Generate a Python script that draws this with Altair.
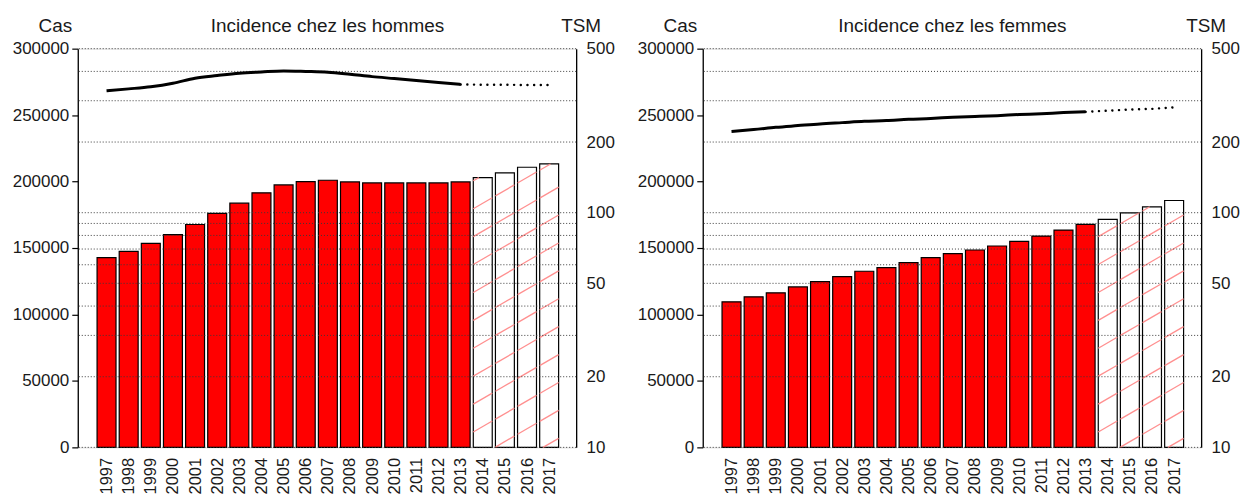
import altair as alt
import pandas as pd

# ---------------- data ----------------
years = list(range(1997, 2018))
first_projected_year = 2014

cas_hommes = [142700, 147500, 153500, 160000, 167700, 176000, 183750, 191500,
              197500, 200000, 201000, 199750, 199000, 199000, 199000, 199000,
              199750, 203000, 206500, 210750, 213250]
tsm_hommes = [331, 337, 344, 356, 374, 384, 393, 398, 402, 400, 397, 389,
              380, 373, 366, 359, 352, 351, 351, 350, 350]

cas_femmes = [109500, 113250, 116250, 120750, 124750, 128500, 132500, 135250,
              139000, 142750, 145750, 148500, 151500, 155000, 159000, 163500,
              167750, 171500, 176500, 181000, 185750]
tsm_femmes = [222, 226, 231, 235, 239, 242, 245, 247, 250, 252, 255, 257,
              259, 262, 264, 267, 269, 272, 275, 277, 281]

panel_titles = ["Incidence chez les hommes", "Incidence chez les femmes"]
cas_ticks = [0, 50000, 100000, 150000, 200000, 250000, 300000]
tsm_ticks = [10, 20, 50, 100, 200, 500]
tsm_grid = [10, 20, 30, 40, 50, 60, 70, 80, 90, 100, 200, 300, 400, 500]

# ---------------- style constants ----------------
FONT = "Liberation Sans"
TXT = "#1a1a1a"
W, H = 500, 400
X_DOMAIN = [1995.70, 2018.22]
CAS_MAX = 300000
BAR_HALF = 0.428
HATCH_SLOPE_PX = 0.58      # rise per px of run (screen)
HATCH_SPACING_PX = 28      # vertical spacing between hatch lines


def hatch_segments(df):
    px_per_year = W / (X_DOMAIN[1] - X_DOMAIN[0])
    cas_per_px = CAS_MAX / H
    s = HATCH_SLOPE_PX * px_per_year * cas_per_px
    step = HATCH_SPACING_PX * cas_per_px
    x_ref = 2015 - BAR_HALF
    c_ref = 63225
    rows = []
    for _, r in df[df["proj"]].iterrows():
        x0, x1, top = r["x0"], r["x1"], r["cas"]
        for n in range(-30, 40):
            a = c_ref + n * step
            xz = x_ref - a / s
            xt = x_ref + (top - a) / s
            xs = max(x0, xz)
            xe = min(x1, xt)
            if xe > xs + 1e-6:
                rows.append({"hx": xs, "hy": a + s * (xs - x_ref),
                             "hx2": xe, "hy2": a + s * (xe - x_ref)})
    return pd.DataFrame(rows)


def panel(cas, tsm, title):
    df = pd.DataFrame({"year": years, "cas": cas, "tsm": tsm})
    df["proj"] = df["year"] >= first_projected_year
    df["x0"] = df["year"] - BAR_HALF
    df["x1"] = df["year"] + BAR_HALF
    hdf = hatch_segments(df)
    gdf = pd.DataFrame({"g": tsm_grid})

    xscale = alt.Scale(domain=X_DOMAIN, nice=False, zero=False)
    xaxis = alt.Axis(values=years, format="d", labelAngle=270, domain=False,
                     ticks=False, grid=False, labelFontSize=16.5, labelPadding=10,
                     labelFont=FONT, labelColor=TXT, title=None,
                     labelOverlap=False, labelFlush=False)
    top_axis = alt.Axis(orient="top", labels=False, ticks=False, domain=False,
                        grid=False, title=title, titleX=W / 2, titleY=-17,
                        titleAlign="center", titleBaseline="alphabetic",
                        titleAngle=0, titleFontSize=19, titleFontWeight="normal",
                        titleFont=FONT, titleColor=TXT)
    cas_scale = alt.Scale(domain=[0, CAS_MAX], nice=False, zero=True)
    tsm_scale = alt.Scale(type="log", domain=[10, 500], nice=False)

    bars = alt.Chart(df).mark_bar(stroke="#000000", strokeWidth=1.2).encode(
        x=alt.X("x0:Q", scale=xscale, axis=xaxis),
        x2="x1:Q",
        y=alt.Y("cas:Q", scale=cas_scale, axis=alt.Axis(
            orient="left", values=cas_ticks, format="d", tickSize=6,
            tickColor="#000000", domainColor="#000000", domainWidth=1.3,
            tickWidth=1.2, labelPadding=3, grid=False, labelFontSize=17,
            labelFont=FONT, labelColor=TXT,
            title="Cas", titleAngle=0, titleX=-23, titleY=-17,
            titleAlign="center", titleBaseline="alphabetic", titleFontSize=19,
            titleFontWeight="normal", titleFont=FONT, titleColor=TXT)),
        y2=alt.datum(0),
        fill=alt.condition("datum.proj", alt.value("#ffffff"), alt.value("#ff0000")),
    )

    hatch = alt.Chart(hdf).mark_rule(color="#ff8f8f", strokeWidth=1.3).encode(
        x=alt.X("hx:Q", scale=xscale, axis=top_axis),
        x2="hx2:Q",
        y=alt.Y("hy:Q", scale=cas_scale, axis=None),
        y2="hy2:Q",
    )

    grid = alt.Chart(gdf).mark_rule(color="#3a3a3a", strokeDash=[1, 2],
                                    strokeWidth=1).encode(
        y=alt.Y("g:Q", scale=tsm_scale, axis=None),
    )

    solid = alt.Chart(df).transform_filter(
        f"datum.year < {first_projected_year}"
    ).mark_line(color="#000000", strokeWidth=3, interpolate="monotone").encode(
        x=alt.X("year:Q", scale=xscale, axis=None),
        y=alt.Y("tsm:Q", scale=tsm_scale, axis=alt.Axis(
            orient="right", values=tsm_ticks, format="d", ticks=False,
            domainColor="#000000", domainWidth=1.3, labelPadding=10,
            grid=False, labelFontSize=17, labelFont=FONT, labelColor=TXT,
            title="TSM", titleAngle=0, titleX=4.5, titleY=-17,
            titleAlign="center", titleBaseline="alphabetic", titleFontSize=19,
            titleFontWeight="normal", titleFont=FONT, titleColor=TXT)),
    )

    dotted = alt.Chart(df).transform_filter(
        f"datum.year >= {first_projected_year - 1}"
    ).mark_line(color="#000000", strokeWidth=2.4, strokeDash=[0.1, 6.6],
                strokeCap="round").encode(
        x=alt.X("year:Q", scale=xscale, axis=None),
        y=alt.Y("tsm:Q", scale=tsm_scale, axis=None),
    )

    return alt.layer(bars, hatch, grid, solid, dotted).resolve_scale(
        y="independent"
    ).resolve_axis(x="independent").properties(width=W, height=H)


left = panel(cas_hommes, tsm_hommes, panel_titles[0])
right = panel(cas_femmes, tsm_femmes, panel_titles[1])

chart = alt.hconcat(left, right, spacing=21).properties(
    padding={"left": 3, "top": 7, "right": 0, "bottom": 0}
).configure_view(stroke=None).configure(font=FONT)

chart.save("out.html", embed_options={"renderer": "svg", "actions": False})
